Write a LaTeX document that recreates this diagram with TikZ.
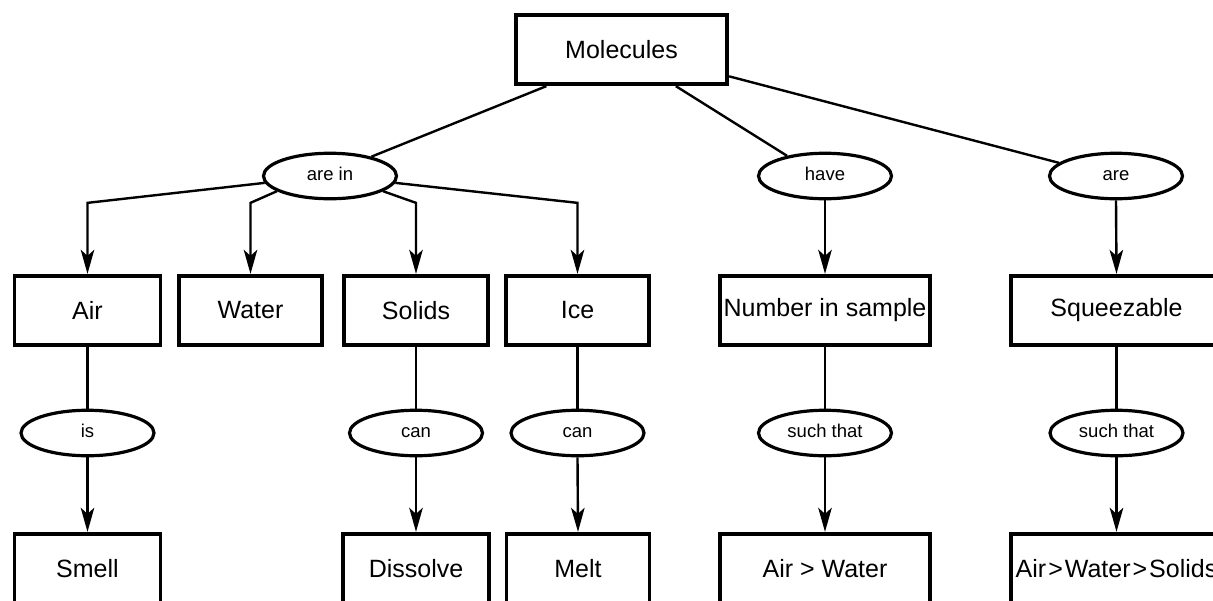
\documentclass[tikz,border=0pt]{standalone}
\usepackage{fontspec}
\setmainfont{Liberation Sans}
\usetikzlibrary{arrows.meta,shapes.geometric}
\begin{document}
\begin{tikzpicture}[x=1pt,y=-1pt,
  box/.style={draw, line width=3.8pt, fill=white, minimum height=69.5pt, inner sep=0pt, font=\fontsize{25}{30}\selectfont},
  link/.style={draw, ellipse, line width=3.2pt, fill=white, minimum width=133pt, minimum height=45.5pt, inner sep=0pt, text height=13.9pt, text depth=4.6pt, font=\fontsize{18.5}{22}\selectfont},
  conn/.style={line width=2.4pt},
  arr/.style={conn, -{Stealth[length=24pt,width=13.5pt,inset=6pt]}}]
\useasboundingbox (0,0) rectangle (1213,600);
\clip (0,0) rectangle (1213,600);
% top
\node[box, minimum width=211.5pt] (mol) at (621.5,49.5) {Molecules};
% first link row
\node[link] (arein) at (330,176) {are in};
\node[link] (have) at (825,176) {have};
\node[link] (are) at (1116,176) {are};
% second row boxes
\node[box, minimum width=146pt] (air) at (87.5,310.5) {Air};
\node[box, minimum width=143.5pt] (water) at (250.5,310.5) {Water};
\node[box, minimum width=144.5pt] (solids) at (416,310.5) {Solids};
\node[box, minimum width=142.5pt] (ice) at (577.5,310.5) {Ice};
\node[box, minimum width=210.5pt] (number) at (825,310.5) {Number in sample};
\node[box, minimum width=210.5pt] (squeeze) at (1116.5,310.5) {Squeezable};
% second link row
\node[link] (is) at (87.5,433) {is};
\node[link] (canA) at (416,433) {can};
\node[link] (canB) at (577.5,433) {can};
\node[link] (suchA) at (825,433) {such that};
\node[link] (suchB) at (1116.5,433) {such that};
% third row boxes
\node[box, minimum width=146pt] (smell) at (87.5,568.5) {Smell};
\node[box, minimum width=146pt] (dissolve) at (416,568.5) {Dissolve};
\node[box, minimum width=143pt] (melt) at (578,568.5) {Melt};
\node[box, minimum width=210.5pt] (airw) at (825,568.5) {Air > Water};
\node[box, minimum width=210.5pt] (airws) at (1116.5,568.5) {Air\hspace{2pt}>\hspace{2pt}Water\hspace{2pt}>\hspace{2pt}Solids};
% connectors from Molecules
\draw[conn] (mol.206) -- (arein.25);
\draw[conn] (mol.-34) -- (have.152);
\draw[conn] (mol.-14) -- (are.167);
% are in branches
\draw[arr] (arein.186) -- ([yshift=71pt]air.north) -- (air.north);
\draw[arr] (arein.196) -- ([yshift=71pt]water.north) -- (water.north);
\draw[arr] (arein.344) -- ([yshift=71pt]solids.north) -- (solids.north);
\draw[arr] (arein.354) -- ([yshift=71pt]ice.north) -- (ice.north);
\draw[arr] (have.south) -- (number.north);
\draw[arr] (are.south) -- (squeeze.north);
% lower links
\draw[conn] (air.south) -- (is.north);
\draw[arr] (is.south) -- (smell.north);
\draw[conn] (solids.south) -- (canA.north);
\draw[arr] (canA.south) -- (dissolve.north);
\draw[conn] (ice.south) -- (canB.north);
\draw[arr] (canB.south) -- (melt.north);
\draw[conn] (number.south) -- (suchA.north);
\draw[arr] (suchA.south) -- (airw.north);
\draw[conn] (squeeze.south) -- (suchB.north);
\draw[arr] (suchB.south) -- (airws.north);
\end{tikzpicture}
\end{document}
